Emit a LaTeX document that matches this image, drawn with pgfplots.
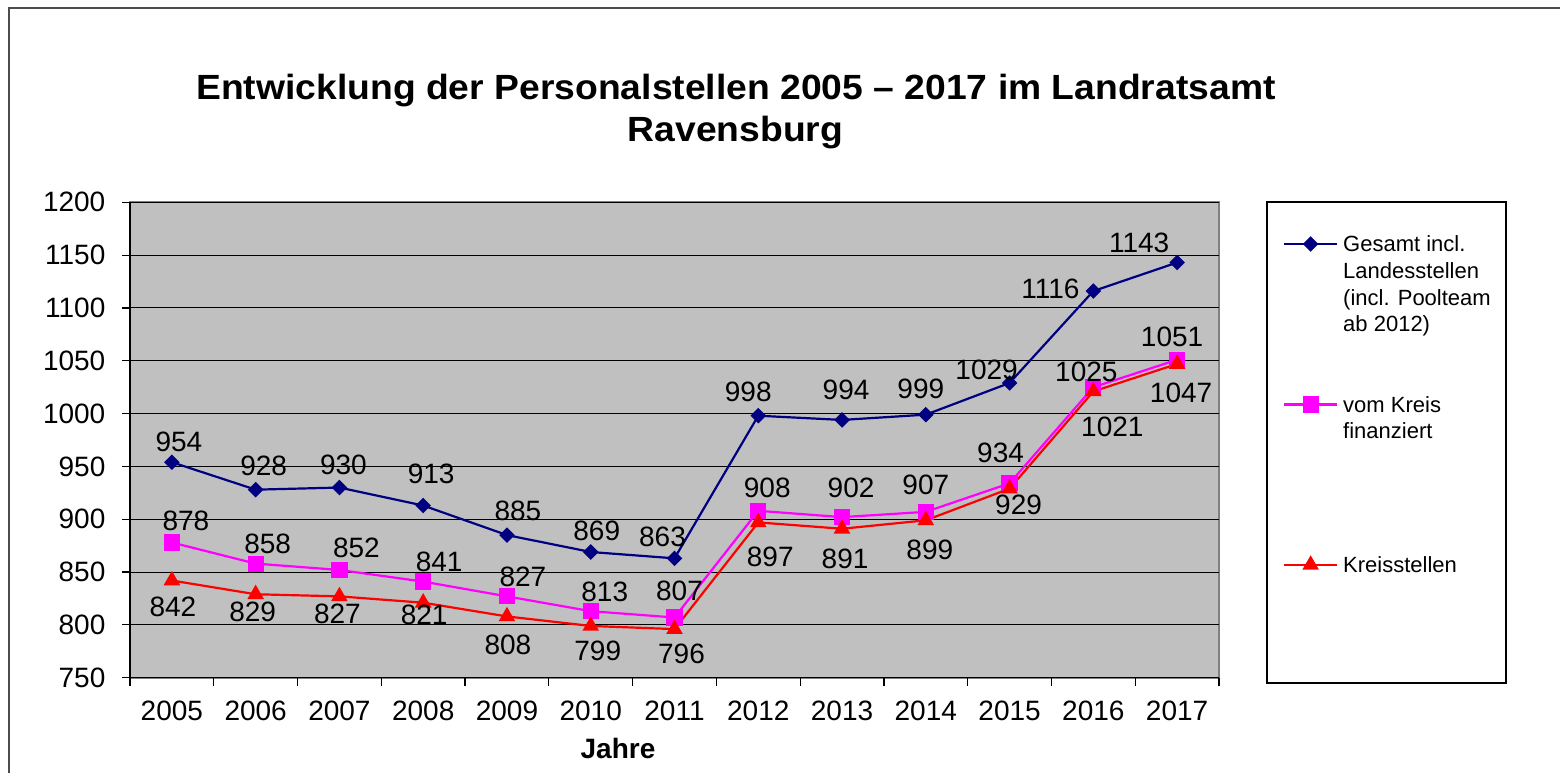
\documentclass[border=0pt]{standalone}
\usepackage{graphicx}
\usepackage{pgfplots}
\pgfplotsset{compat=1.18}
\usepackage{pgfplotstable}
\usepackage{fontspec}
\setmainfont{Liberation Sans}
\definecolor{navyc}{HTML}{000080}
\definecolor{magc}{HTML}{FF00FF}
\definecolor{redc}{HTML}{FF0000}
\definecolor{plotbg}{HTML}{C0C0C0}

\pgfplotstableread{
x y dx dy
0.5 954 3.5 10
1.5 928 4 12
2.5 930 2 11.5
3.5 913 4 16
4.5 885 5.5 12
5.5 869 3 10.5
6.5 863 -6 10.5
7.5 998 -5 12
8.5 994 2 15
9.5 999 -2.5 13
10.5 1029 -11.5 6.5
11.5 1116 -21.5 1
12.5 1143 -19 10
}\tblue

\pgfplotstableread{
x y dx dy
0.5 878 7 11
1.5 858 6 10
2.5 852 8.5 11
3.5 841 8 10
4.5 827 8 10
5.5 813 7 9.5
6.5 807 2.5 13.5
7.5 908 4.5 11.5
8.5 902 4.5 14.5
9.5 907 0 13.5
10.5 934 -4.5 15
11.5 1025 -3.5 7.5
12.5 1051 -2.5 11.5
}\tpink

\pgfplotstableread{
x y dx dy
0.5 842 0.5 -13
1.5 829 -1.5 -9
2.5 827 -1 -8.5
3.5 821 0.5 -6
4.5 808 0.5 -14
5.5 799 3.5 -12.5
6.5 796 3.5 -12.5
7.5 897 6 -17
8.5 891 1.5 -15
9.5 899 2 -15
10.5 929 4.5 -8
11.5 1021 9.5 -17.5
12.5 1047 2 -14.5
}\tred

\begin{document}
\begin{tikzpicture}
\path[use as bounding box] (0,0) rectangle (780pt,-386.5pt);
\draw[black!70, line width=0.8pt] (4.5pt,-386.5pt) -- (4.5pt,-4pt) -- (780pt,-4pt);
\node[font=\fontsize{17.5}{20}\selectfont\bfseries, anchor=base] at (368pt,-49.65pt) {\scalebox{1.065}[1]{Entwicklung der Personalstellen 2005 – 2017 im Landratsamt}};
\node[font=\fontsize{17.5}{20}\selectfont\bfseries, anchor=base] at (367.75pt,-70.5pt) {\scalebox{1.065}[1]{Ravensburg}};
\draw[black, line width=0.6pt] (633.5pt,-101pt) rectangle (753pt,-341.5pt);
\begin{axis}[
  scale only axis,
  width=544.5pt, height=237.7pt,
  at={(65pt,-338.85pt)}, anchor=south west,
  xmin=0, xmax=13, ymin=750, ymax=1200,
  clip=false,
  separate axis lines,
  axis x line*=bottom, axis y line*=left,
  x axis line style={-, black, line width=0.6pt},
  y axis line style={-, black, line width=0.6pt},
  axis background/.style={fill=plotbg, draw=black!50, line width=1pt},
  xtick={0,...,13}, xticklabels={},
  extra x ticks={0.5,1.5,...,12.5},
  extra x tick labels={2005,2006,2007,2008,2009,2010,2011,2012,2013,2014,2015,2016,2017},
  extra x tick style={major tick length=0pt, grid=none, xticklabel style={yshift=-8pt}},
  ytick={750,800,...,1200},
  xtick pos=left, ytick pos=left,
  tick align=outside, major tick length=4pt,
  tick style={black, line width=0.6pt},
  ymajorgrids, grid style={black, line width=0.5pt},
  tick label style={font=\fontsize{14}{16}\selectfont},
  yticklabel style={xshift=-4.8pt},
  /pgf/number format/assume math mode=true,
  /pgf/number format/1000 sep={},
  xlabel={Jahre},
  xlabel style={font=\fontsize{14}{16}\selectfont\bfseries, at={(axis description cs:0.4481,-0.1689)}, anchor=base},
  legend image code/.code={\draw[yshift=3.85pt, mark repeat=2, mark phase=2, #1] plot coordinates {(0pt,0pt) (13.25pt,0pt) (26.5pt,0pt)};},
  legend style={draw=none, fill=none, at={(axis description cs:1.0588,0.935)}, anchor=north west,
    inner sep=0pt, outer sep=0pt, row sep=2.63pt, column sep=2.5pt,
    font=\fontsize{11}{13.2}\selectfont, cells={anchor=base west}, nodes={inner sep=0pt}},
  visualization depends on={\thisrow{dx} \as \dx},
  visualization depends on={\thisrow{dy} \as \dy},
  nodes near coords,
  point meta=explicit symbolic,
  every node near coord/.append style={font=\fontsize{14}{16}\selectfont, text=black, anchor=center, xshift=\dx pt, yshift=\dy pt},
]
\addplot[navyc, line width=1.1pt, mark=square*, mark size=2.2pt, mark options={rotate=45, solid, fill=navyc}] table[x=x, y=y, meta=y] {\tblue};
\addlegendentry{\strut Gesamt incl.}
\addlegendimage{empty legend}\addlegendentry{\strut Landesstellen}
\addlegendimage{empty legend}\addlegendentry{\strut (incl. Poolteam}
\addlegendimage{empty legend}\addlegendentry{\strut ab 2012)}
\addlegendimage{empty legend}\addlegendentry{\strut}
\addlegendimage{empty legend}\addlegendentry{\strut}
\addplot[magc, line width=1.1pt, mark=square*, mark size=3.5pt, mark options={solid, fill=magc}] table[x=x, y=y, meta=y] {\tpink};
\addlegendentry{\strut vom Kreis}
\addlegendimage{empty legend}\addlegendentry{\strut finanziert}
\addlegendimage{empty legend}\addlegendentry{\strut}
\addlegendimage{empty legend}\addlegendentry{\strut}
\addlegendimage{empty legend}\addlegendentry{\strut}
\addlegendimage{empty legend}\addlegendentry{\strut}
\addplot[redc, line width=1.1pt, mark=triangle*, mark size=3.7pt, mark options={solid, fill=redc}] table[x=x, y=y, meta=y] {\tred};
\addlegendentry{\strut Kreisstellen}
\end{axis}
\end{tikzpicture}
\end{document}
